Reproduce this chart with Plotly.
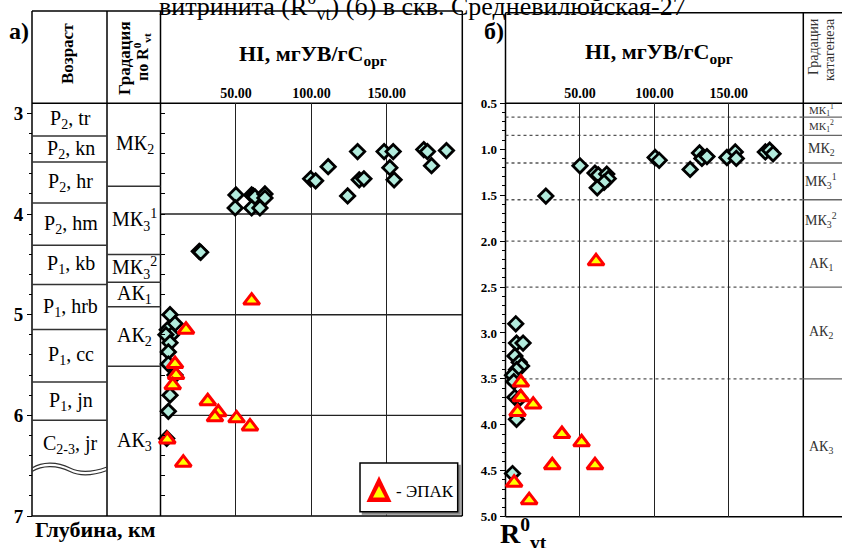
import plotly.graph_objects as go

SERIF = "Liberation Serif, Times New Roman, serif"
W, H = 842, 548

# ---------------- data ----------------
# Panel a: HI versus depth (km)
left_hi = [50.0, 49.5, 60.4, 61.5, 62.6, 60.4, 65.9, 69.2, 69.2, 99.5, 102.8, 111.1,
           124.0, 130.6, 131.7, 134.8, 148.2, 154.2, 152.0, 154.8, 174.5, 176.9, 179.6,
           189.5, 25.7, 26.6, 6.3, 9.6, 4.5, 7.4, 3.6, 6.3, 5.2, 5.2, 9.6, 6.3, 5.2, 4.1]
left_depth = [3.81, 3.94, 3.81, 3.82, 3.83, 3.94, 3.94, 3.80, 3.84, 3.65, 3.67, 3.53,
              3.82, 3.38, 3.66, 3.65, 3.38, 3.38, 3.54, 3.66, 3.36, 3.38, 3.52,
              3.37, 4.37, 4.38, 5.00, 5.09, 5.15, 5.20, 5.20, 5.28, 5.37, 5.49, 5.60, 5.80, 5.96, 6.23]
left_epak_hi = [60.4, 16.9, 9.6, 10.3, 8.1, 31.3, 38.3, 36.1, 50.4, 59.3, 4.5, 15.1]
left_epak_depth = [4.86, 5.15, 5.49, 5.60, 5.70, 5.86, 5.97, 6.02, 6.03, 6.11, 6.24, 6.47]

# Panel b: HI versus vitrinite reflectance R0vt
right_hi = [50.0, 27.1, 60.1, 62.3, 68.0, 69.0, 66.2, 61.6, 100.5, 103.2, 124.0, 130.3,
            131.9, 135.3, 148.7, 154.3, 155.0, 174.5, 177.4, 179.7, 6.9, 7.4, 11.8, 6.3,
            9.2, 10.8, 7.4, 4.7, 5.6, 6.3, 9.6, 7.4, 4.7]
right_ro = [1.18, 1.51, 1.26, 1.28, 1.27, 1.32, 1.36, 1.42, 1.09, 1.12, 1.22, 1.04,
            1.10, 1.08, 1.09, 1.03, 1.10, 1.03, 1.01, 1.05, 2.90, 3.11, 3.11, 3.25,
            3.32, 3.36, 3.40, 3.46, 3.53, 3.70, 3.71, 3.94, 4.53]
right_epak_hi = [60.8, 10.3, 10.3, 18.6, 8.1, 37.9, 51.1, 31.4, 60.1, 5.8, 15.9]
right_epak_ro = [2.22, 3.54, 3.70, 3.78, 3.86, 4.10, 4.19, 4.44, 4.44, 4.63, 4.82]

# Stratigraphy column
age_labels = ["P<sub>2</sub>, tr", "P<sub>2</sub>, kn", "P<sub>2</sub>, hr", "P<sub>2</sub>, hm",
              "P<sub>1</sub>, kb", "P<sub>1</sub>, hrb", "P<sub>1</sub>, cc", "P<sub>1</sub>, jn",
              "C<sub>2-3</sub>, jr"]
age_bounds = [2.9, 3.225, 3.484, 3.891, 4.311, 4.701, 5.148, 5.668, 6.049, 6.528]

# Catagenesis grades by depth (panel a)
left_grades = ["МК<sub>2</sub>", "МК<sub>3</sub><sup>1</sup>", "МК<sub>3</sub><sup>2</sup>",
               "АК<sub>1</sub>", "АК<sub>2</sub>", "АК<sub>3</sub>"]
left_grade_bounds = [2.9, 3.725, 4.403, 4.678, 4.921, 5.512, 7.0]

# Catagenesis grades by R0vt (panel b)
right_grades = ["МК<sub>1</sub><sup>1</sup>", "МК<sub>1</sub><sup>2</sup>", "МК<sub>2</sub>",
                "МК<sub>3</sub><sup>1</sup>", "МК<sub>3</sub><sup>2</sup>", "АК<sub>1</sub>",
                "АК<sub>2</sub>", "АК<sub>3</sub>"]
right_grade_bounds = [0.5, 0.65, 0.85, 1.15, 1.55, 2.0, 2.5, 3.5, 5.0]

hi_ticks = [50, 100, 150]
depth_ticks = [3, 4, 5, 6, 7]
ro_ticks = [0.5, 1.0, 1.5, 2.0, 2.5, 3.0, 3.5, 4.0, 4.5, 5.0]


# ---------------- helpers ----------------
def fx(p):
    return p / W


def fy(p):
    return 1 - p / H


shapes = []
annotations = []


def seg(x0, x1, y0, y1, xref="paper", yref="paper", color="black", width=1.5,
        dash="solid", layer="below"):
    if xref == "paper":
        x0, x1 = fx(x0), fx(x1)
    if yref == "paper":
        y0, y1 = fy(y0), fy(y1)
    shapes.append(dict(type="line", x0=x0, x1=x1, y0=y0, y1=y1, xref=xref, yref=yref,
                       line=dict(color=color, width=width, dash=dash), layer=layer))


def label(text, x, y, size=17, xref="paper", yref="paper", color="black", angle=0,
          xanchor="center", yanchor="middle"):
    if xref == "paper":
        x = fx(x)
    if yref == "paper":
        y = fy(y)
    annotations.append(dict(text=text, x=x, y=y, xref=xref, yref=yref, showarrow=False,
                            textangle=angle, xanchor=xanchor, yanchor=yanchor,
                            font=dict(family=SERIF, size=size, color=color)))


# ---------------- panel a frame ----------------
AL, AC1, AC2, AR = 32, 107, 160.5, 462.3
AT, AH, AB = 11, 103.3, 516
seg(AL, AR, AT, AT)
seg(AL, AR, AB, AB)
seg(AL, AL, AT, AB)
seg(AR, AR, AT, AB)
seg(AC1, AC1, AT, AB)
seg(AC2, AC2, AT, AB)
seg(AL, AR, AH, AH)

# stratigraphic boundaries (last one is the unconformity drawn as a wavy line)
for b in age_bounds[1:-1]:
    seg(AL, AC1, b, b, yref="y", color="#333", width=1.5)
for i, t in enumerate(age_labels):
    label(t, (AL + AC1) / 2 + 1, (age_bounds[i] + age_bounds[i + 1]) / 2, size=20, yref="y")

for off in (0, 3.5):
    pts = [(32, 468), (42, 462), (56, 461), (70, 468), (82, 474), (96, 471), (107, 467)]
    p = [(fx(x), fy(y + off)) for x, y in pts]
    path = "M {} {} C {} {}, {} {}, {} {} C {} {}, {} {}, {} {}".format(
        *[v for xy in p for v in xy])
    shapes.append(dict(type="path", path=path, xref="paper", yref="paper",
                       line=dict(color="#333", width=1.3), layer="below"))

for b in left_grade_bounds[1:-1]:
    seg(AC1, AC2, b, b, yref="y", color="#333", width=1.5)
for i, t in enumerate(left_grades):
    label(t, (AC1 + AC2) / 2 + 1, (left_grade_bounds[i] + left_grade_bounds[i + 1]) / 2,
          size=20, yref="y")

# depth grid across the HI field
for d in depth_ticks[1:-1]:
    seg(0, 200, d, d, xref="x", yref="y", color="#222", width=1.4)

# ---------------- panel b frame ----------------
BL, BC, BR = 505.5, 803.3, 842
BT, BH, BB = 12.7, 103.3, 516.7
seg(BL, BR + 2, BT, BT)
seg(BL, BR + 2, BB, BB)
seg(BL, BL, BT, BB)
seg(BC, BC, BT, BB)
seg(BL, BR + 2, BH, BH)

for b in right_grade_bounds[1:-1]:
    seg(0, 200, b, b, xref="x2", yref="y2", color="#555", width=1.3, dash="dot")
    seg(BC, BR + 2, b, b, yref="y2", color="#666", width=1.3)
for i, t in enumerate(right_grades):
    small = (right_grade_bounds[i + 1] - right_grade_bounds[i]) < 0.25
    label(t, 821, (right_grade_bounds[i] + right_grade_bounds[i + 1]) / 2,
          size=11 if small else 14, yref="y2", color="#333")

# ---------------- legend box ----------------
shapes.append(dict(type="rect", x0=fx(362.5), x1=fx(460), y0=fy(465.5), y1=fy(514),
                   xref="paper", yref="paper", line=dict(color="#888", width=1.5),
                   fillcolor="#888", layer="above"))
shapes.append(dict(type="rect", x0=fx(360), x1=fx(457.7), y0=fy(463), y1=fy(511.7),
                   xref="paper", yref="paper", line=dict(color="black", width=1.5),
                   fillcolor="white", layer="above"))


def tri(cx, top, bot, half):
    return "M {} {} L {} {} L {} {} Z".format(fx(cx), fy(top), fx(cx - half), fy(bot),
                                              fx(cx + half), fy(bot))


shapes.append(dict(type="path", path=tri(379, 476, 502, 12.5), xref="paper", yref="paper",
                   fillcolor="red", line=dict(width=0), layer="above"))
shapes.append(dict(type="path", path=tri(379, 486, 497.5, 6), xref="paper", yref="paper",
                   fillcolor="#ffff00", line=dict(width=0), layer="above"))
label("- ЭПАК", 394, 491, size=17, xanchor="left")

# ---------------- texts ----------------
label("витринита (R<sup>0</sup><sub>vt</sub>) (б) в скв. Средневилюйская-27", 422, 6.2,
      size=26)
label("<b>а)</b>", 19, 31, size=24)
label("<b>б)</b>", 494, 31, size=24)
label("<b>Возраст</b>", 67, 54, size=17, angle=-90)
label("<b>Градация</b>", 124, 58, size=17, angle=-90)
label("<b>по R<sup>0</sup><sub>vt</sub></b>", 142, 57, size=16, angle=-90)
label("<b>HI, мгУВ/гС<sub>орг</sub></b>", 313, 55, size=22)
label("<b>HI, мгУВ/гС<sub>орг</sub></b>", 659, 53, size=22)
label("Градации", 813, 47, size=14, angle=-90, color="#333")
label("катагенеза", 829, 50, size=14, angle=-90, color="#333")
label("<b>Глубина, км</b>", 95, 529, size=22)
label("<b>R<sup>0</sup><sub>vt</sub></b>", 498, 533, size=28, xanchor="left")

# ---------------- traces ----------------
diamond = dict(symbol="diamond", size=11, color="#b2ebdc", line=dict(color="black", width=2.8))
triangle = dict(symbol="triangle-up", size=14, color="#ffff00", line=dict(color="#ff0000", width=3))

fig = go.Figure()
fig.add_trace(go.Scatter(x=left_hi, y=left_depth, mode="markers", marker=diamond,
                         xaxis="x", yaxis="y", cliponaxis=False, name="HI"))
fig.add_trace(go.Scatter(x=left_epak_hi, y=left_epak_depth, mode="markers", marker=triangle,
                         xaxis="x", yaxis="y", cliponaxis=False, name="ЭПАК"))
fig.add_trace(go.Scatter(x=right_hi, y=right_ro, mode="markers", marker=diamond,
                         xaxis="x2", yaxis="y2", cliponaxis=False, name="HI"))
fig.add_trace(go.Scatter(x=right_epak_hi, y=right_epak_ro, mode="markers", marker=triangle,
                         xaxis="x2", yaxis="y2", cliponaxis=False, name="ЭПАК"))
fig.add_trace(go.Scatter(x=[None], y=[None], xaxis="x", yaxis="y3", mode="markers",
                         showlegend=False, hoverinfo="skip"))

tick_font = dict(family=SERIF, size=14, color="black")
hi_text = ["<b>{:.2f}</b>".format(v) for v in hi_ticks]

fig.update_layout(
    width=W, height=H,
    margin=dict(l=0, r=0, t=0, b=0, autoexpand=False),
    paper_bgcolor="white",
    plot_bgcolor="rgba(0,0,0,0)",
    showlegend=False,
    shapes=shapes,
    annotations=annotations,
    xaxis=dict(domain=[fx(AC2), fx(AR)], range=[0, 200], side="top", anchor="y",
               tickvals=hi_ticks, ticktext=hi_text, tickfont=tick_font, automargin=False,
               showgrid=True, gridcolor="#222", gridwidth=1.4, zeroline=False,
               showline=False, ticks="", ticklabelstandoff=2),
    yaxis=dict(domain=[fy(AB), fy(AH)], range=[7, 2.9], anchor="free", position=fx(AL),
               tickvals=depth_ticks, ticktext=["<b>{}</b>".format(v) for v in depth_ticks],
               tickfont=dict(family=SERIF, size=19, color="black"), automargin=False,
               ticks="outside", ticklen=5, tickcolor="black", tickwidth=1,
               minor=dict(dtick=0.2, tick0=3, ticks="outside", ticklen=3,
                          tickcolor="black", showgrid=False),
               showgrid=False, zeroline=False, showline=False),
    yaxis3=dict(range=[7, 2.9], overlaying="y", anchor="x", side="left", automargin=False,
                tick0=3, dtick=0.2, ticks="inside", ticklen=4, tickcolor="black",
                showticklabels=False, showgrid=False, zeroline=False, showline=False),
    xaxis2=dict(domain=[fx(BL), fx(BC)], range=[0, 200], side="top", anchor="y2",
                tickvals=hi_ticks, ticktext=hi_text, tickfont=tick_font, automargin=False,
                showgrid=True, gridcolor="#222", gridwidth=1.4, zeroline=False,
                showline=False, ticks="", ticklabelstandoff=2),
    yaxis2=dict(domain=[fy(BB), fy(BH)], range=[5, 0.5], anchor="x2", automargin=False,
                tickvals=ro_ticks, ticktext=["<b>{:.1f}</b>".format(v) for v in ro_ticks],
                tickfont=dict(family=SERIF, size=13, color="black"),
                ticks="outside", ticklen=5, tickcolor="black", tickwidth=1,
                minor=dict(dtick=0.1, tick0=0.5, ticks="outside", ticklen=3,
                           tickcolor="black", showgrid=False),
                showgrid=False, zeroline=False, showline=False),
)

fig.write_html("out.html")
